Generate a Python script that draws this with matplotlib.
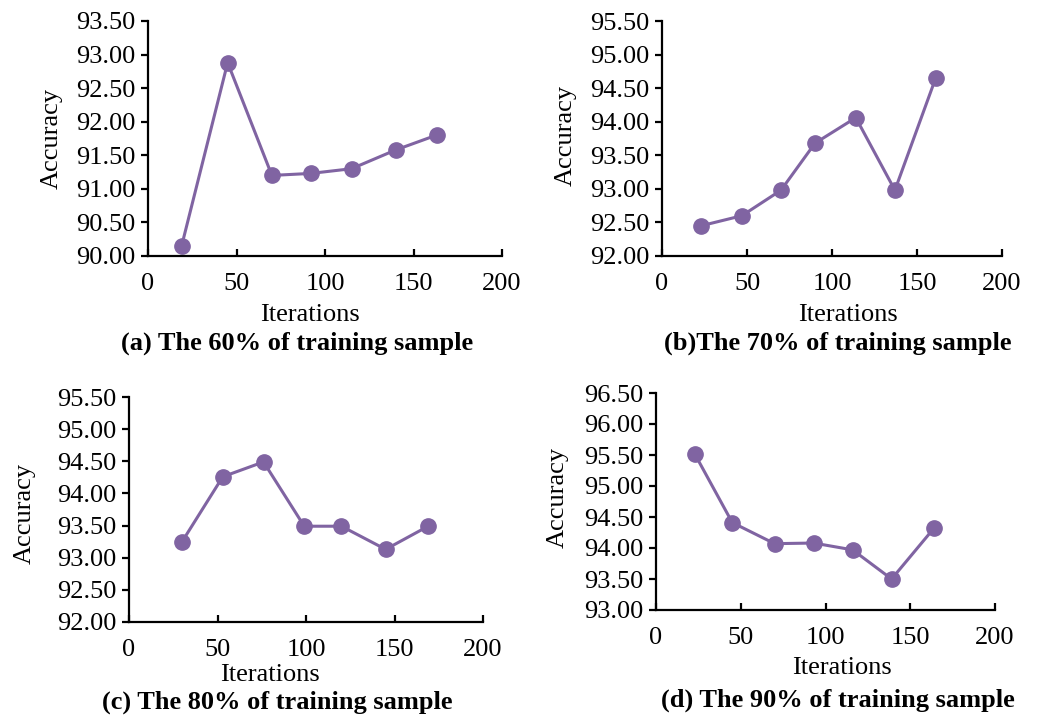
import matplotlib.pyplot as plt
import numpy as np

plt.rcParams['font.family'] = 'Liberation Serif'
plt.rcParams['font.size'] = 19

# Datos
iter_a = [19, 45, 70, 92, 115, 140, 163]
acc_a = [90.15, 92.88, 91.20, 91.23, 91.30, 91.58, 91.80]

iter_b = [23, 47, 70, 90, 114, 137, 161]
acc_b = [92.45, 92.60, 92.98, 93.68, 94.06, 92.98, 94.65]

iter_c = [30, 53, 76, 99, 120, 145, 169]
acc_c = [93.25, 94.26, 94.49, 93.49, 93.49, 93.13, 93.49]

iter_d = [23, 45, 70, 93, 116, 139, 164]
acc_d = [95.51, 94.41, 94.07, 94.08, 93.97, 93.50, 94.32]

x_ticks = [0, 50, 100, 150, 200]
y_ticks_a = np.arange(90.0, 93.51, 0.5)
y_ticks_b = np.arange(92.0, 95.51, 0.5)
y_ticks_c = np.arange(92.0, 95.51, 0.5)
y_ticks_d = np.arange(93.0, 96.51, 0.5)

captions = ['(a) The 60% of training sample',
            '(b)The 70% of training sample',
            '(c) The 80% of training sample',
            '(d) The 90% of training sample']

color = '#8064A2'
W, H = 1063, 720
fig = plt.figure(figsize=(W / 100, H / 100), dpi=100)

# posiciones en pixeles (izq, der, arriba, abajo)
boxes = [(148, 502, 21, 256), (662, 1002, 21, 256),
         (129, 483, 397, 622), (656, 995, 393, 610)]
ylab_pos = [(-0.271, 0.50), (-0.284, 0.514), (-0.294, 0.483), (-0.291, 0.52)]
xlab_pos = [(0.458, -0.251), (0.548, -0.251), (0.399, -0.237), (0.548, -0.268)]
cap_pos = [(297, 343), (838, 343), (277, 702), (838, 700)]

datasets = [(iter_a, acc_a, y_ticks_a), (iter_b, acc_b, y_ticks_b),
            (iter_c, acc_c, y_ticks_c), (iter_d, acc_d, y_ticks_d)]

for i, (xs, ys, yt) in enumerate(datasets):
    l, r, t, b = boxes[i]
    ax = fig.add_axes([l / W, 1 - b / H, (r - l) / W, (b - t) / H])
    ax.plot(xs, ys, color=color, linewidth=2.2, marker='o', markersize=11,
            markerfacecolor=color, markeredgecolor=color, clip_on=False)
    ax.set_xlim(0, 200)
    ax.set_ylim(yt[0], yt[-1])
    ax.set_xticks(x_ticks)
    ax.set_yticks(yt)
    ax.set_yticklabels([f'{v:.2f}' for v in yt])
    for s in ['top', 'right']:
        ax.spines[s].set_visible(False)
    for s in ['left', 'bottom']:
        ax.spines[s].set_linewidth(1.6)
    ax.tick_params(axis='x', direction='in', length=5, width=1.6, pad=12)
    ax.tick_params(axis='y', direction='out', length=5, width=1.6, pad=4)
    ax.set_xlabel('Iterations')
    ax.xaxis.label.set_va('center')
    ax.xaxis.set_label_coords(*xlab_pos[i])
    ax.set_ylabel('Accuracy')
    ax.yaxis.label.set_va('center')
    ax.yaxis.set_label_coords(*ylab_pos[i])
    cx, cy = cap_pos[i]
    fig.text(cx / W, 1 - cy / H, captions[i], ha='center', va='center',
             fontweight='bold', fontsize=19)

plt.savefig('out.png', dpi=100)
